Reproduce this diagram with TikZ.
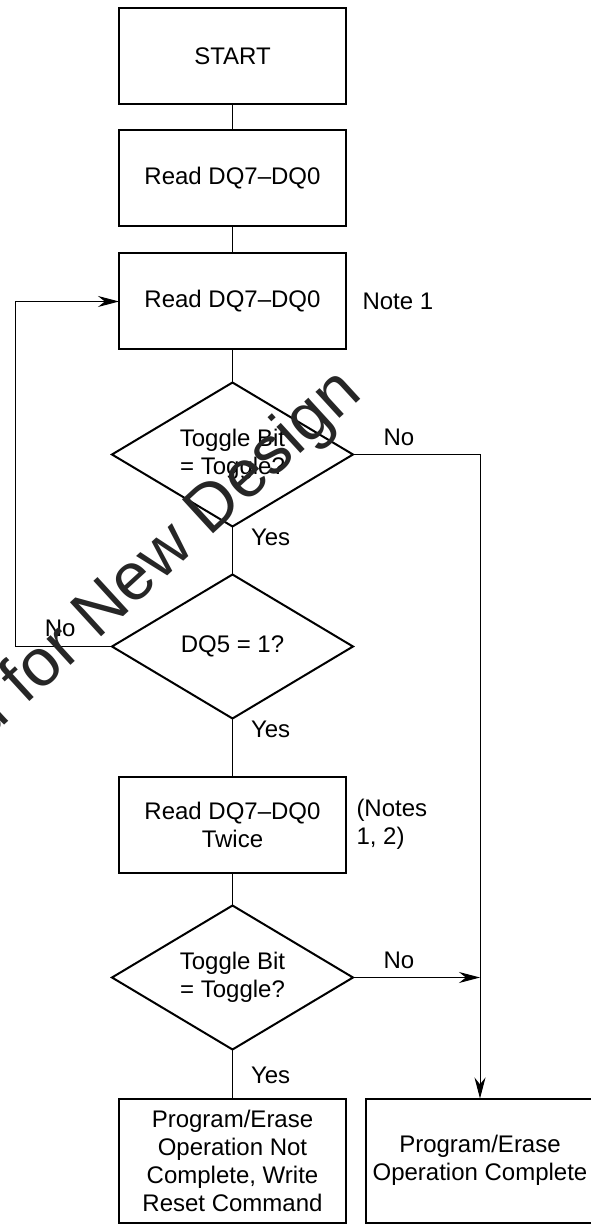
\documentclass[tikz,border=0pt]{standalone}
\usepackage{fontspec}
\setmainfont{Liberation Sans}
\usetikzlibrary{positioning,shapes.geometric,arrows.meta}
\tikzset{basic/.style={draw,line width=1pt,fill=white,align=center,inner sep=0pt,outer sep=0pt}}
\tikzset{process/.style={basic,rectangle,minimum width=113.5pt,minimum height=48pt}}
\tikzset{decision/.style={basic,diamond,aspect=1.67,minimum width=120.5pt,minimum height=72pt}}
\tikzset{note/.style={inner sep=0pt,align=left}}
\tikzset{stamp/.style={inner sep=0pt,text=black!85,font=\fontsize{33.5}{33.5}\selectfont}}

\begin{document}
\begin{tikzpicture}[font=\fontsize{12}{14}\selectfont,line width=0.5pt,>={Stealth[length=10.5pt,width=5.5pt]}]
    \useasboundingbox (-116.25pt,28.25pt) rectangle (178.75pt,-583.75pt);
        \node[process] (start) at (0,0) {START};
        \node[process,below=13pt of start] (read1) {Read DQ7–DQ0};
        \node[process,below=13.5pt of read1] (read2) {Read DQ7–DQ0};
        \node[note,right=8pt of read2] (note1) {Note 1};
        \node[decision,below=16.5pt of read2] (toggle1) {Toggle Bit\\= Toggle?};
        \node[decision,below=24pt of toggle1] (dq5) {DQ5 = 1?};
        \node[process,below=29pt of dq5] (read3) {Read DQ7–DQ0\\Twice};
        \node[note,right=5pt of read3] (note2) {(Notes\\1, 2)};
        \node[decision,below=16.5pt of read3] (toggle2) {Toggle Bit\\= Toggle?};
        \node[process,minimum height=62pt,below=24.5pt of toggle2] (fail) {Program/Erase\\Operation Not\\Complete, Write\\Reset Command};
        \node[process,minimum width=114pt,minimum height=62pt,right=10pt of fail] (done) {Program/Erase\\Operation Complete};
        \node[note,above right=4pt and 15pt of toggle1.east] (no1) {No};
        \node[note,below right=1pt and 9pt of toggle1.south] (yes1) {Yes};
        \node[note,above left=4.5pt and 18pt of dq5.west] (no2) {No};
        \node[note,below right=1pt and 9pt of dq5.south] (yes2) {Yes};
        \node[note,above right=4pt and 15pt of toggle2.east] (no3) {No};
        \node[note,below right=8.5pt and 9pt of toggle2.south] (yes3) {Yes};
        \coordinate[left=48pt of dq5.west] (back);
        \coordinate (merge) at (done.north |- toggle2.east);
            \path[draw] (start) -- (read1);
            \path[draw] (read1) -- (read2);
            \path[draw] (read2) -- (toggle1);
            \path[draw] (toggle1) -- (dq5);
            \path[draw] (dq5) -- (read3);
            \path[draw] (read3) -- (toggle2);
            \path[draw] (toggle2) -- (fail);
            \path[draw,->] (toggle1.east) -| (done.north);
            \path[draw,->] (toggle2.east) -- (merge);
            \path[draw,->] (dq5.west) -- (back) |- (read2.west);
        \node[stamp,rotate=42.5,anchor=base east] (watermark) at (65.75pt,-169.75pt) {Not Recommended for New Design};
    \end{tikzpicture}
\end{document}
